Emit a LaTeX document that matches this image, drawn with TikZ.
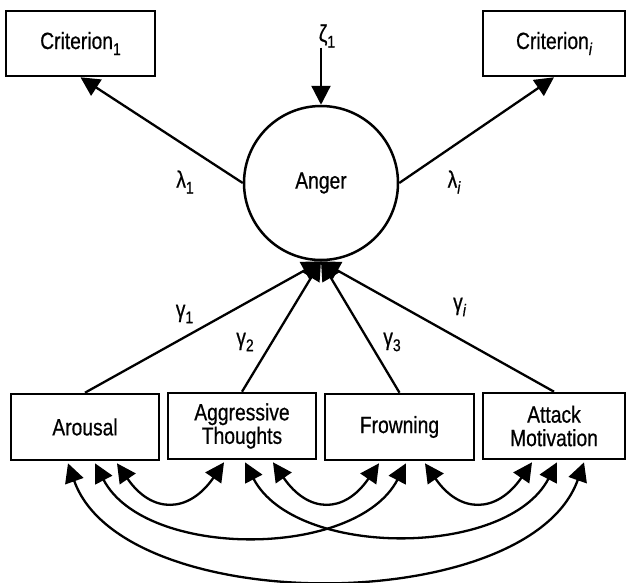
\documentclass[tikz,border=0pt]{standalone}
\usepackage{fontspec}
\setmainfont{Liberation Sans}[FakeStretch=0.82,FakeBold=0.6]
\usetikzlibrary{arrows.meta,calc}
\newcommand{\mysub}[1]{\raisebox{-6pt}{\fontsize{17}{17}\selectfont #1}}
\tikzset{
  box/.style={draw, line width=2.6pt, minimum height=65pt, inner sep=0pt, align=center, font=\fontsize{23.5}{23.5}\selectfont},
  lab/.style={inner sep=0pt, font=\fontsize{23.5}{23.5}\selectfont},
  conn/.style={line width=2.3pt, -{Triangle[length=19pt,width=19pt]}},
  biconn/.style={line width=2.3pt, {Triangle[length=19pt,width=19pt]}-{Triangle[length=19pt,width=19pt]}}
}
\begin{document}
\begin{tikzpicture}[x=1pt,y=-1pt]
\useasboundingbox (0,0) rectangle (627,582);
% top boxes
\node[box, minimum width=149pt] (crit1) at (80.5,43.5) {Criterion\mysub{1}};
\node[box, minimum width=142pt] (criti) at (554,43.5) {Criterion\mysub{\itshape i}};
% latent
\node[draw, circle, line width=2.5pt, minimum size=154pt, inner sep=0pt, font=\fontsize{23.5}{23.5}\selectfont] (anger) at (321,183) {Anger};
\node[lab] (zeta) at (327,36) {ζ\mysub{1}};
% bottom boxes
\node[box, minimum width=148pt, minimum height=66pt] (arousal) at (85,427) {Arousal};
\node[box, minimum width=148pt, minimum height=66pt] (agg) at (242,426) {Aggressive\\Thoughts};
\node[box, minimum width=149pt, minimum height=66pt] (frown) at (399.5,427) {Frowning};
\node[box, minimum width=142pt, minimum height=66pt] (attack) at (554,426) {Attack\\Motivation};
% labels
\node[lab] (l1) at (185,182) {λ\mysub{1}};
\node[lab] (li) at (454,182) {λ\mysub{\itshape i}};
\node[lab] (g1) at (184.5,314) {γ\mysub{1}};
\node[lab] (g2) at (245,342) {γ\mysub{2}};
\node[lab] (g3) at (392,342) {γ\mysub{3}};
\node[lab] (gi) at (459.5,307) {γ\mysub{\itshape i}};
% arrows
\draw[conn] (zeta.south -| anger.north) -- (anger.north);
\draw[conn] (anger.west) -- (crit1.south);
\draw[conn] (anger.east) -- (criti.south);
\draw[conn] (arousal.north) -- (anger.south);
\draw[conn] (agg.north) -- (anger.south);
\draw[conn] (frown.north) -- (anger.south);
\draw[conn] (attack.north) -- (anger.south);
% covariances
\draw[biconn] ($(arousal.south)+(32,2)$) .. controls +(35,51) and +(-35,51) .. ($(agg.south)+(-18,2)$);
\draw[biconn] ($(agg.south)+(31,2)$) .. controls +(35,51) and +(-35,51) .. ($(frown.south)+(-20.5,2)$);
\draw[biconn] ($(frown.south)+(25.5,2)$) .. controls +(35,51) and +(-35,51) .. ($(attack.south)+(-22,2)$);
\draw[biconn] ($(arousal.south)+(10,2)$) .. controls +(50,96) and +(-50,96) .. ($(frown.south)+(6.5,2)$);
\draw[biconn] ($(agg.south)+(3,2)$) .. controls +(50,96) and +(-50,96) .. ($(attack.south)+(3,2)$);
\draw[biconn] ($(arousal.south)+(-17,2)$) .. controls +(55,155) and +(-55,155) .. ($(attack.south)+(30,2)$);
\end{tikzpicture}
\end{document}
